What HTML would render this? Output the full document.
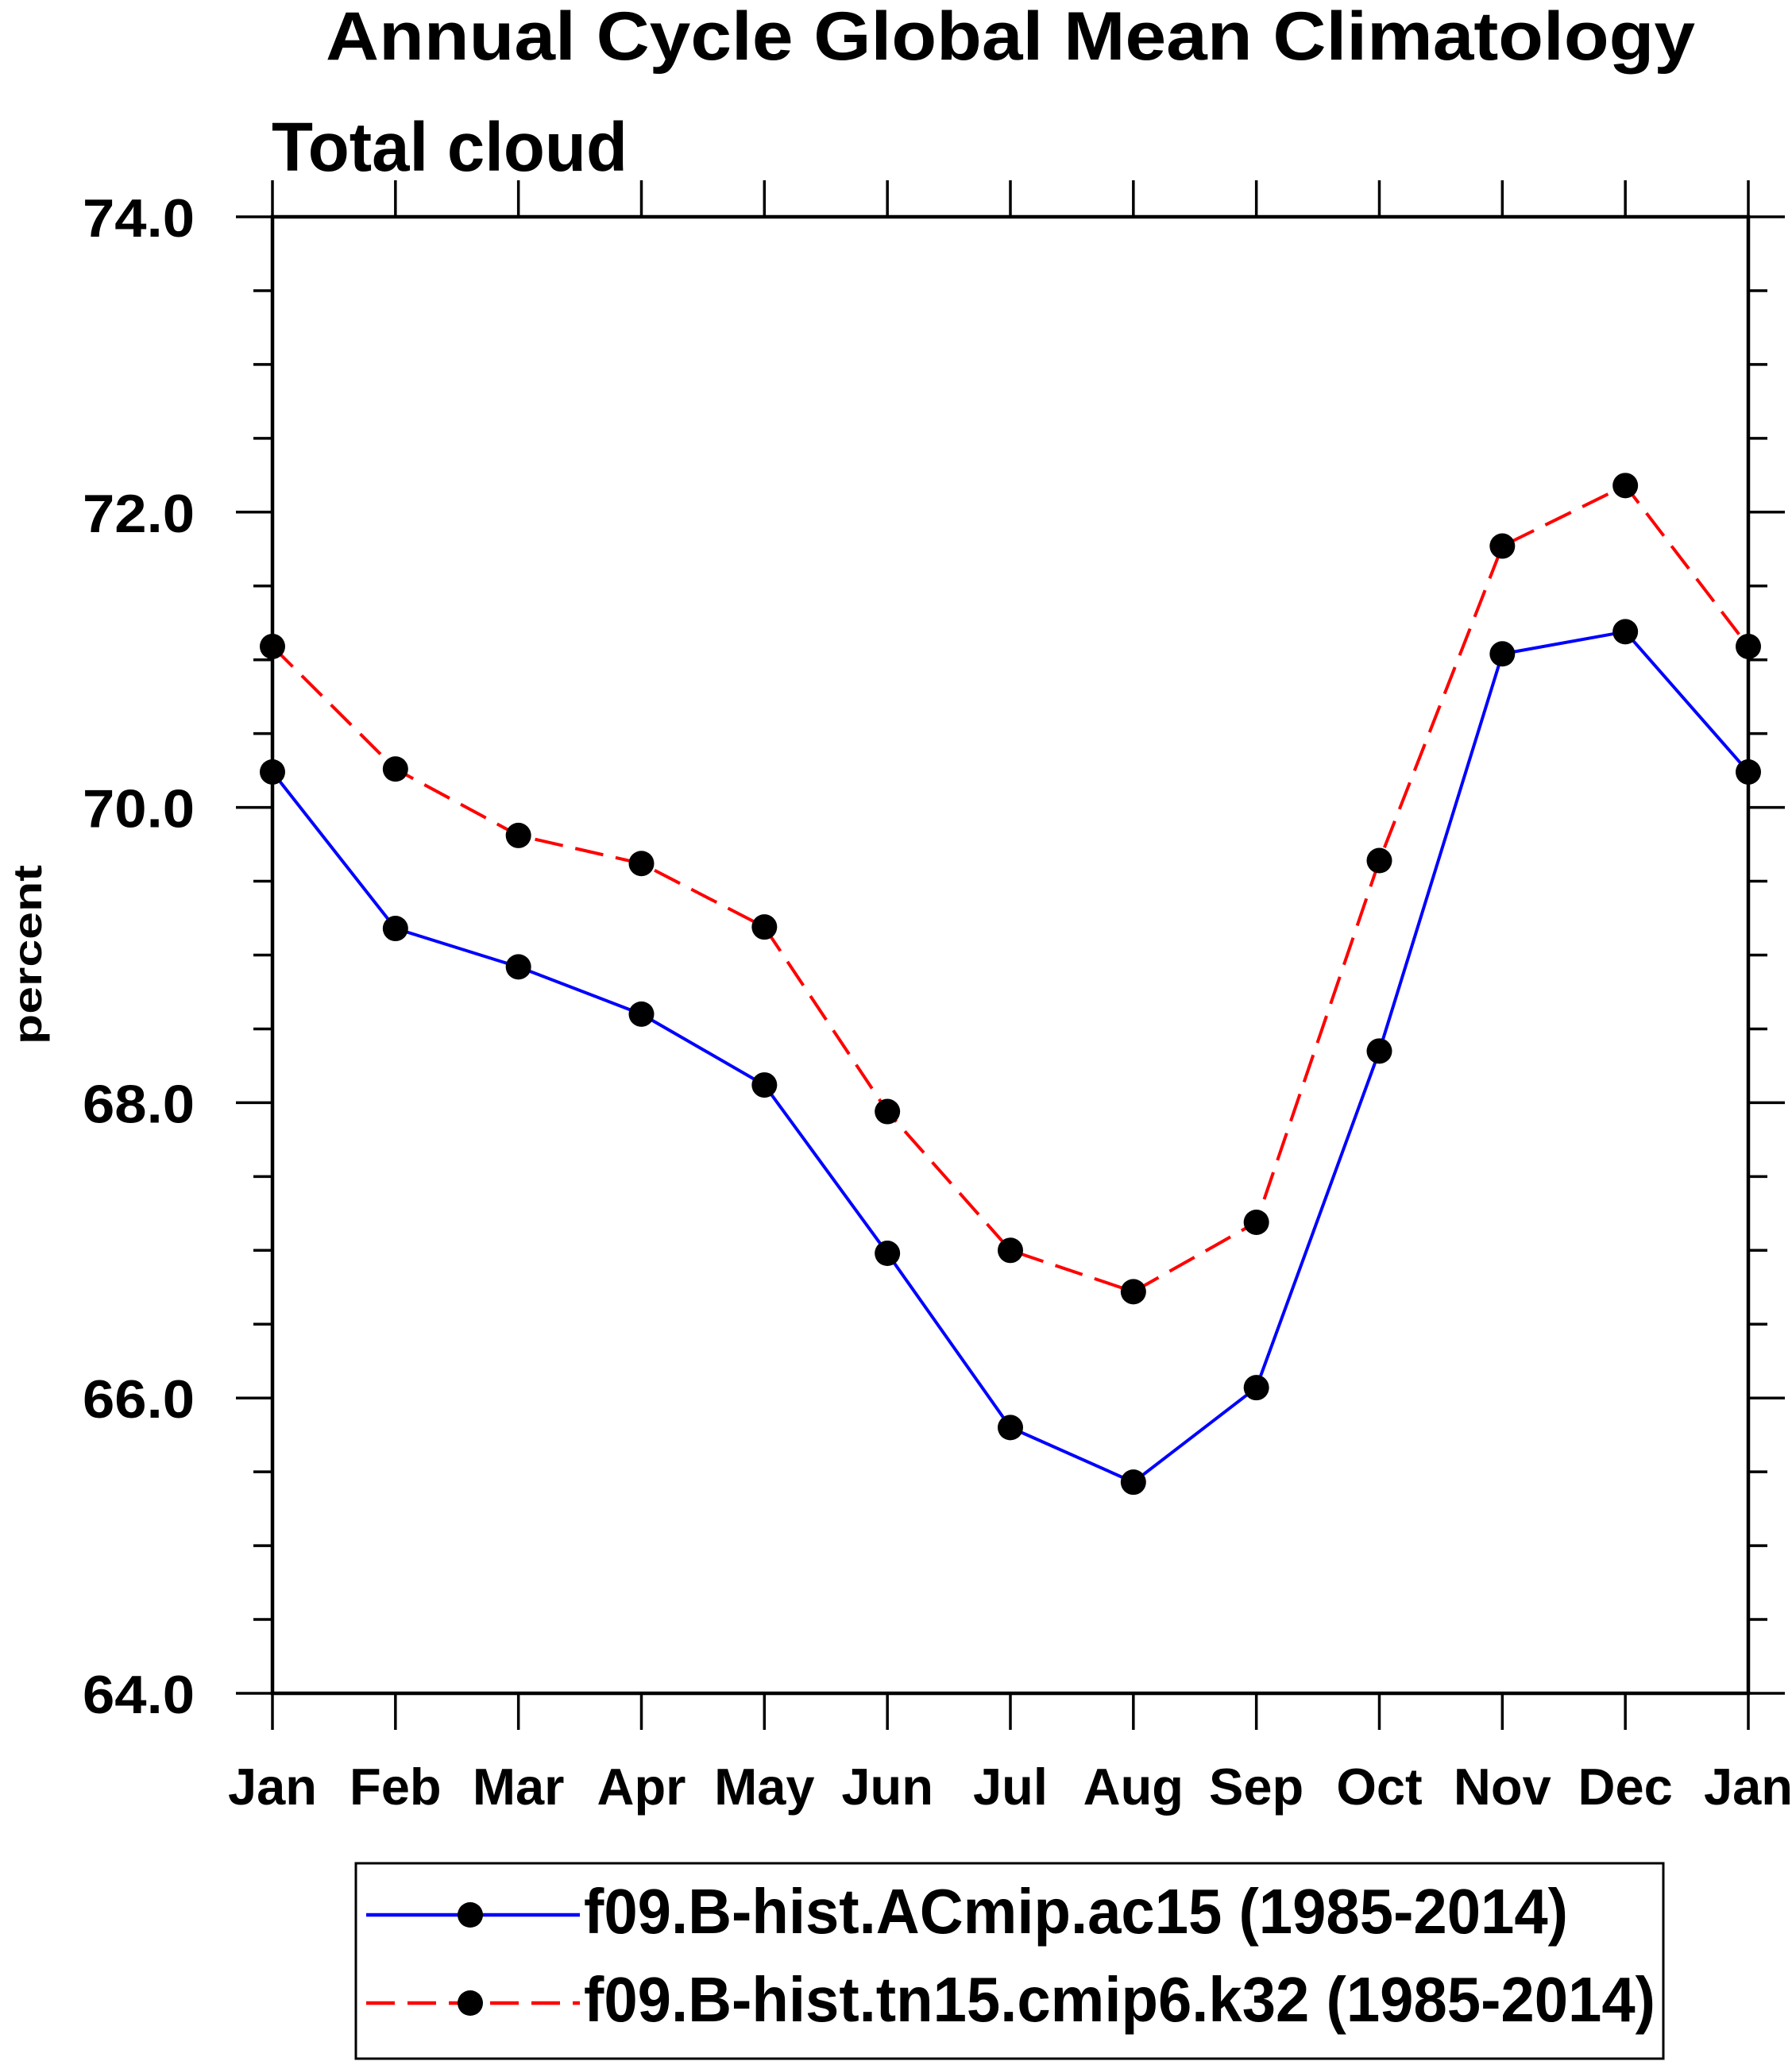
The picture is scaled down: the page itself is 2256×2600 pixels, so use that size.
<!DOCTYPE html>
<html><head><meta charset="utf-8"><style>
html,body{margin:0;padding:0;background:#fff;}
svg{display:block;}
text{font-family:"Liberation Sans",sans-serif;font-weight:bold;fill:#000;}
</style></head><body>
<svg id="chart" width="2256" height="2600" viewBox="0 0 2256 2600" xmlns="http://www.w3.org/2000/svg">
<text x="1272" y="75" font-size="86" text-anchor="middle" textLength="1724" lengthAdjust="spacingAndGlyphs">Annual Cycle Global Mean Climatology</text>
<text x="342" y="215" font-size="87" textLength="448" lengthAdjust="spacingAndGlyphs">Total cloud</text>
<text transform="translate(52,1202) rotate(-90)" font-size="50" text-anchor="middle" textLength="226" lengthAdjust="spacingAndGlyphs">percent</text>
<g id="axes"></g>
<g id="series"></g>
<rect x="448" y="2346" width="1646" height="246" fill="none" stroke="#000" stroke-width="3"/>
<g>
<line x1="461" y1="2411" x2="730" y2="2411" stroke="#0000ff" stroke-width="4.5"/>
<circle cx="592" cy="2411" r="16" fill="#000"/>
<text x="735" y="2434" font-size="80" textLength="1239" lengthAdjust="spacingAndGlyphs">f09.B-hist.ACmip.ac15 (1985-2014)</text>
</g>
<g>
<line x1="461" y1="2522" x2="730" y2="2522" stroke="#ff0000" stroke-width="4.5" stroke-dasharray="36,16"/>
<circle cx="592" cy="2522" r="16" fill="#000"/>
<text x="735" y="2545" font-size="80" textLength="1349" lengthAdjust="spacingAndGlyphs">f09.B-hist.tn15.cmip6.k32 (1985-2014)</text>
</g>
</svg>
<script>
const months = ["Jan","Feb","Mar","Apr","May","Jun","Jul","Aug","Sep","Oct","Nov","Dec","Jan"];
const seriesAc15 = [70.24,69.18,68.92,68.60,68.12,66.98,65.80,65.43,66.07,68.35,71.04,71.19,70.24];
const seriesK32 = [71.09,70.26,69.81,69.62,69.19,67.94,67.00,66.72,67.19,69.64,71.77,72.18,71.09];
const yTicks = [64,66,68,70,72,74];
const yTickLabels = ["64.0","66.0","68.0","70.0","72.0","74.0"];

const NS = "http://www.w3.org/2000/svg";
const X0 = 343, X1 = 2201, Y0 = 2132, Y1 = 273, YMIN = 64, YMAX = 74;
function xs(i){ return X0 + (X1 - X0) * i / (months.length - 1); }
function ys(v){ return Y0 - (v - YMIN) / (YMAX - YMIN) * (Y0 - Y1); }
function mk(tag, attrs, parent){ const e = document.createElementNS(NS, tag); for (const k in attrs) e.setAttribute(k, attrs[k]); parent.appendChild(e); return e; }

const axes = document.getElementById('axes');
const frame = mk('rect', {x:X0, y:Y1, width:X1-X0, height:Y0-Y1, fill:'none', stroke:'#000', 'stroke-width':4.5}, axes);


months.forEach((m, i) => {
  const x = xs(i);
  mk('line', {x1:x, y1:Y0, x2:x, y2:Y0+46, stroke:'#000', 'stroke-width':3.5}, axes);
  mk('line', {x1:x, y1:Y1, x2:x, y2:Y1-46, stroke:'#000', 'stroke-width':3.5}, axes);
  const t = mk('text', {x:x, y:2272, 'font-size':65, 'text-anchor':'middle'}, axes);
  t.textContent = m;
  
  
});
for (let v = YMIN; v <= YMAX + 1e-9; v += 0.5) {
  const y = ys(v);
  const major = Math.abs(v - Math.round(v / 2) * 2) < 1e-6;
  const len = major ? 46 : 24;
  mk('line', {x1:X0-len, y1:y, x2:X0, y2:y, stroke:'#000', 'stroke-width':3.5}, axes);
  mk('line', {x1:X1, y1:y, x2:X1+len, y2:y, stroke:'#000', 'stroke-width':3.5}, axes);
}
yTicks.forEach((v, i) => {
  const t = mk('text', {x:245, y:ys(v)+25, 'font-size':68, 'text-anchor':'end', textLength:141, lengthAdjust:'spacingAndGlyphs'}, axes);
  t.textContent = yTickLabels[i];
  
  
});

const sg = document.getElementById('series');
function drawSeries(vals, color, dash, name){
  const pts = vals.map((v, i) => xs(i) + ',' + ys(v)).join(' ');
  const pl = mk('polyline', {points:pts, fill:'none', stroke:color, 'stroke-width':4, 'stroke-dasharray':dash}, sg);
  
  
  vals.forEach((v, i) => {
    const c = mk('circle', {cx:xs(i), cy:ys(v), r:16, fill:'#000'}, sg);
    
    
  });
}
drawSeries(seriesK32, '#ff0000', '36,16', 'k32');
drawSeries(seriesAc15, '#0000ff', 'none', 'ac15');
</script>
</body></html>
